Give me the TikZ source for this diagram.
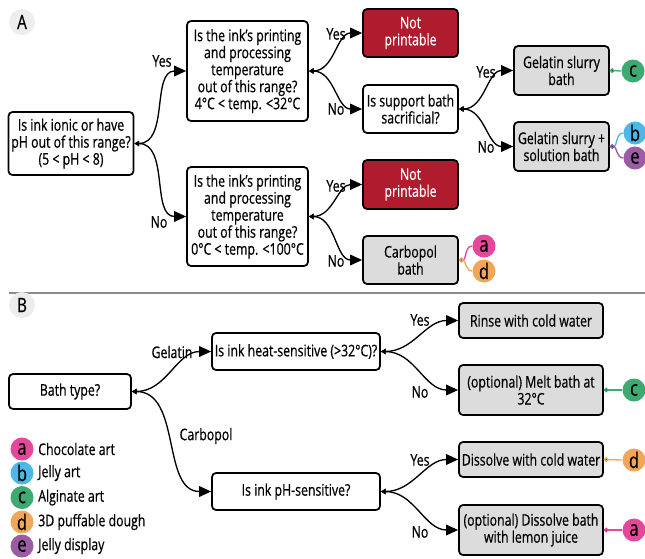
\documentclass[tikz,border=0pt]{standalone}
\usepackage{fontspec}
\setmainfont[FakeStretch=0.77,FakeBold=0.6]{Open Sans}
\usetikzlibrary{arrows.meta}
\definecolor{boxgray}{HTML}{DCDCDC}
\definecolor{npred}{HTML}{B01C2E}
\definecolor{ca}{HTML}{E6479A}
\definecolor{cb}{HTML}{4DB8E8}
\definecolor{cc}{HTML}{3DAA72}
\definecolor{cd}{HTML}{F2A65A}
\definecolor{ce}{HTML}{9B5BA5}
\definecolor{sepgray}{HTML}{8C8C8C}
\begin{document}
\begin{tikzpicture}[x=0.75pt,y=-0.75pt,
  font=\fontsize{12}{12.75}\selectfont,
  sz/.style 2 args={minimum width=#1*0.75pt, minimum height=#2*0.75pt},
  box/.style={draw=black, line width=1.3pt, rounded corners=3pt, fill=white, align=center, inner sep=0pt},
  gbox/.style={box, fill=boxgray},
  rbox/.style={box, fill=npred, text=white},
  tag/.style={circle, fill=#1, minimum size=23*0.75pt, inner sep=0pt, font=\fontsize{16}{16}\selectfont},
  panel/.style={circle, fill=black!7, minimum size=26*0.75pt, inner sep=0pt, font=\fontsize{15}{15}\selectfont},
  conn/.style={line width=1pt, {Triangle[length=3.5pt,width=4pt]}-{Triangle[length=9pt,width=8pt]}},
  tagline/.style={line width=1pt, draw=#1, {Circle[length=3.5pt,fill=black]}-},
  elab/.style={inner sep=1pt}
]
\useasboundingbox (0,0) rectangle (645,558);

% ---------- Panel A ----------
\node[panel] (pA) at (22,22) {A};
\node[box, sz={125}{63}] (q1) at (71,143.5) {Is ink ionic or have\\pH out of this range?\\(5 < pH < 8)};
\node[box, sz={121}{100}] (q2) at (247.5,71) {Is the ink’s printing\\and processing\\temperature\\out of this range?\\4°C < temp. <32°C};
\node[box, sz={121}{99}] (q3) at (247.5,216.5) {Is the ink’s printing\\and processing\\temperature\\out of this range?\\0°C < temp. <100°C};
\node[rbox, sz={95}{48}] (np1) at (410.5,33) {Not\\printable};
\node[box, sz={95}{48}] (q4) at (410.5,109) {Is support bath\\sacrificial?};
\node[rbox, sz={95}{49}] (np2) at (410.5,184.5) {Not\\printable};
\node[gbox, sz={95}{48}] (carb) at (410.5,260) {Carbopol\\bath};
\node[gbox, sz={95}{49}] (gs) at (561.5,70.5) {Gelatin slurry\\bath};
\node[gbox, sz={95}{49}] (gss) at (561.5,146.5) {Gelatin slurry +\\solution bath};

\node[tag=cc] (tc1) at (633,71) {c};
\node[tag=cb] (tb1) at (635,133) {b};
\node[tag=ce] (te1) at (635,158) {e};
\node[tag=ca] (ta1) at (484,246) {a};
\node[tag=cd] (td1) at (484,271) {d};

\draw[conn] (q1.east) to[out=0,in=180] (q2.west);
\draw[conn] (q1.east) to[out=0,in=180] (q3.west);
\draw[conn] (q2.east) to[out=0,in=180] (np1.west);
\draw[conn] (q2.east) to[out=0,in=180] (q4.west);
\draw[conn] (q3.east) to[out=0,in=180] (np2.west);
\draw[conn] (q3.east) to[out=0,in=180] (carb.west);
\draw[conn] (q4.east) to[out=0,in=180] (gs.west);
\draw[conn] (q4.east) to[out=0,in=180] (gss.west);

\draw[tagline=cc] (gs.east) -- (tc1.west);
\draw[tagline=cb] (gss.east) to[out=0,in=180] (tb1.west);
\draw[tagline=ce] (gss.east) to[out=0,in=180] (te1.west);
\draw[tagline=ca] (carb.east) to[out=0,in=180] (ta1.west);
\draw[tagline=cd] (carb.east) to[out=0,in=180] (td1.west);

\node[elab] (y1) at (162,61) {Yes};
\node[elab] (n1) at (159,222) {No};
\node[elab] (y2) at (336,34) {Yes};
\node[elab] (n2) at (336,109) {No};
\node[elab] (y3) at (336,186) {Yes};
\node[elab] (n3) at (336,261) {No};
\node[elab] (y4) at (486,72) {Yes};
\node[elab] (n4) at (486,147) {No};

% separator
\coordinate (s1) at (9,293);
\coordinate (s2) at (645,293);
\draw[sepgray, line width=1.3pt] (s1) -- (s2);

% ---------- Panel B ----------
\node[panel] (pB) at (22,305) {B};
\node[box, sz={122}{35}] (bt) at (70,391.5) {Bath type?};
\node[box, sz={168}{37}] (hs) at (296,351.5) {Is ink heat-sensitive (>32°C)?};
\node[box, sz={168}{37}] (ps) at (296,491.5) {Is ink pH-sensitive?};
\node[gbox, sz={144}{35}] (r1) at (531,320.5) {Rinse with cold water};
\node[gbox, sz={144}{50}] (r2) at (531,390) {(optional) Melt bath at\\32°C};
\node[gbox, sz={144}{35}] (r3) at (531,459.5) {Dissolve with cold water};
\node[gbox, sz={144}{50}] (r4) at (531,530) {(optional) Dissolve bath\\with lemon juice};

\node[tag=cc] (tc2) at (634,390) {c};
\node[tag=cd] (td2) at (634,460) {d};
\node[tag=ca] (ta2) at (634,530) {a};

\draw[conn] (bt.east) to[out=0,in=180] (hs.west);
\draw[conn] (bt.east) to[out=0,in=180] (ps.west);
\draw[conn] (hs.east) to[out=0,in=180] (r1.west);
\draw[conn] (hs.east) to[out=0,in=180] (r2.west);
\draw[conn] (ps.east) to[out=0,in=180] (r3.west);
\draw[conn] (ps.east) to[out=0,in=180] (r4.west);

\draw[tagline=cc] (r2.east) -- (tc2.west);
\draw[tagline=cd] (r3.east) -- (td2.west);
\draw[tagline=ca] (r4.east) -- (ta2.west);

\node[elab] (gl) at (172,352) {Gelatin};
\node[elab] (cl) at (206,436) {Carbopol};
\node[elab] (y5) at (420,320) {Yes};
\node[elab] (n5) at (420,392) {No};
\node[elab] (y6) at (420,460) {Yes};
\node[elab] (n6) at (420,532) {No};

% legend
\node[tag=ca] (la) at (22,449) {a};
\node[tag=cb] (lb) at (22,473) {b};
\node[tag=cc] (lc) at (22,497.5) {c};
\node[tag=cd] (ld) at (22,522) {d};
\node[tag=ce] (le) at (22,546) {e};
\node[anchor=west, inner sep=0pt] (lat) at (38,449) {Chocolate art};
\node[anchor=west, inner sep=0pt] (lbt) at (38,473) {Jelly art};
\node[anchor=west, inner sep=0pt] (lct) at (38,497.5) {Alginate art};
\node[anchor=west, inner sep=0pt] (ldt) at (38,522) {3D puffable dough};
\node[anchor=west, inner sep=0pt] (let) at (38,546) {Jelly display};
\end{tikzpicture}
\end{document}
